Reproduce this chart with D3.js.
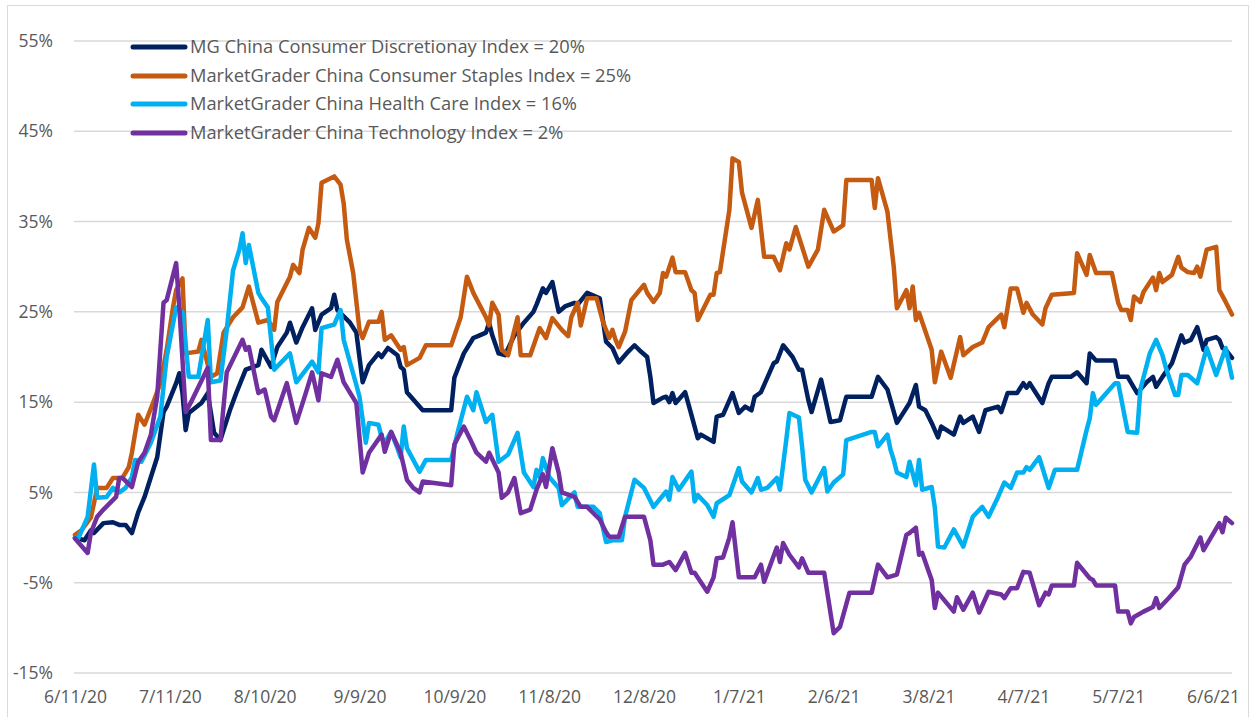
<!DOCTYPE html>
<html>
<head>
<meta charset="utf-8">
<script src="https://cdn.jsdelivr.net/npm/d3@7"></script>
<style>
  body { margin: 0; background: #fff; }
  text { font-family: "Open Sans", "Liberation Sans", Arial, sans-serif; fill: #595959; }
</style>
</head>
<body>
<div id="chart"></div>
<script>
// day offsets from 6/11/20 and index values (%)
const discDays = [0,3,5,6,9,12,14,16,18,20,22,26,28,29,32,33,34,35,36,40,42,44,46,47,49,51,54,58,59,62,64,67,68,70,72,75,76,78,81,82,83,87,89,91,93,96,97,99,102,103,104,105,110,119,120,123,126,128,130,131,132,134,136,139,142,145,146,148,149,151,153,155,158,159,162,166,168,170,171,172,175,177,179,181,182,183,186,187,188,189,190,193,195,197,198,202,203,205,208,210,212,214,215,217,221,222,224,227,229,230,232,233,236,239,242,244,252,254,257,260,264,266,267,269,271,273,274,278,280,281,284,286,288,292,293,295,298,300,301,302,306,308,309,315,317,320,321,323,329,330,333,334,336,339,341,342,344,347,350,351,353,355,357,358,361,362,363,364,366];
const discVals = [0,-0.3,0.8,0.5,1.6,1.7,1.4,1.4,0.5,2.8,4.5,8.9,13.9,14.5,17.1,18.2,16,11.9,13.8,14.9,16,11.6,10.8,11.9,14.1,16,18.6,19.1,20.8,18.9,21.1,22.7,23.8,21.6,23.3,25.4,23,24.7,25.4,26.9,25.2,23.8,22.7,17.2,19.1,20.4,20,21,20.2,18.9,18.6,16.1,14.1,14.1,17.7,20.4,22.1,22.4,22.7,23.8,22.4,20.4,20.2,22.4,23.8,25,25.8,27.6,27.1,28.3,25,25.6,26,25.8,27.1,26.5,21.7,21,20.2,19.4,20.6,21.3,20.6,20,17.8,14.9,15.5,15.6,15,16,14.9,16.1,13.6,11,11.4,10.6,13.4,13.6,16,13.8,14.5,14.1,15.6,16.1,19.3,19.5,21.3,20,18.6,18.6,15.2,13.9,17.5,12.8,13,15.6,15.6,17.8,16.4,12.7,14.9,16.9,14.5,14.1,12.7,11.1,12.3,11.4,13.4,12.7,13.4,11.7,14.1,14.5,13.9,16,16,17.1,16.6,17.1,14.9,17.1,17.8,17.8,18.3,17.1,20.4,19.6,19.6,17.8,17.8,17.2,16,17.2,17.8,16.7,17.8,19.3,22.4,21.6,21.9,23.3,20.8,21.9,22.2,21.9,21,20.8,19.9];

const stapDays = [0,2,5,6,7,10,12,15,17,18,20,22,25,27,29,31,32,34,35,39,40,43,45,47,50,53,55,58,61,63,64,68,69,71,72,74,76,77,78,82,84,85,86,88,90,91,93,96,97,98,100,103,104,105,109,111,119,122,124,126,130,131,132,134,135,137,140,141,144,147,149,151,154,156,157,159,160,162,165,167,169,170,171,172,174,176,180,181,183,185,186,187,189,190,193,195,196,197,201,202,203,204,207,208,210,211,214,216,218,221,223,225,226,228,232,235,237,240,243,244,252,253,254,257,259,260,263,264,265,266,267,271,272,274,277,280,281,284,287,289,293,294,296,298,300,301,303,306,307,309,316,317,319,320,321,323,328,330,331,333,334,335,337,338,341,342,343,344,347,349,350,352,354,355,356,358,361,362,364,366];
const stapVals = [0.3,0.8,2.2,3.8,5.5,5.5,6.6,6.6,7.8,9.4,13.6,12.5,15.2,17.1,20.8,25.5,27.4,28.7,20.4,20.6,21.9,17.8,18.2,22.7,24.4,25.5,27.8,23.8,24.1,23,26.1,28.9,30.2,29.3,31.9,34.3,33.2,34.8,39.3,40,39.1,37,33,29.3,23,22.1,23.9,23.9,25,21.9,22.4,20.8,21.1,19.1,19.9,21.3,21.3,24.4,28.9,27.1,24.4,23.5,26,24.7,20.8,20.2,24.4,20.2,20.2,23.2,22.1,24.3,23,22.3,24.4,26,23.5,26.5,26.5,23.9,22.1,23,21.9,21.1,22.8,26.3,28,27.1,26.1,27.1,29.3,28.9,31,29.4,29.4,27.4,27.1,24.1,26.9,26.9,29.3,29.4,36.3,42,41.6,38.2,34.3,37.4,31.1,31.1,29.6,32.6,31.9,34.4,30,31.9,36.3,33.9,34.6,39.6,39.6,36.5,39.8,36.1,30,25.4,27.4,25.4,27.8,24.1,24.9,20.8,17.2,20.6,17.7,22.2,20.2,21.1,21.6,23.3,24.7,23.3,27.6,27.6,24.9,26,24.7,23.6,25.4,26.9,27.1,31.5,29.9,29.1,31.3,29.3,29.3,26,25.2,25.2,24.1,26.7,26.1,27.2,28.8,27.4,29.3,28.3,29.1,31.1,29.9,29.4,29.3,30,28.9,31.9,32.2,27.4,26.1,24.7];

const healthDays = [0,1,4,6,7,10,12,14,16,18,19,21,24,27,29,32,34,36,39,42,43,46,48,50,52,53,54,55,58,59,61,63,68,70,75,77,78,82,84,85,89,90,92,93,96,97,98,100,102,103,104,105,109,111,119,121,124,126,127,130,132,134,137,139,140,142,145,146,147,148,150,153,154,158,159,164,166,168,170,173,174,177,180,183,187,188,189,191,195,196,197,200,202,203,207,210,211,214,216,217,219,222,223,225,226,229,230,231,233,237,238,240,243,244,252,253,254,257,258,259,260,263,264,266,267,268,271,272,273,275,278,281,284,287,289,292,293,294,296,298,300,301,302,305,308,310,316,317,320,321,322,323,329,330,333,336,337,340,342,344,345,348,349,350,352,355,358,361,364,366];
const healthVals = [0,-0.1,2.3,8.1,4.4,4.5,5.5,5,5.5,6.7,8.6,8.4,10.5,13.4,20,25.5,25,17.8,17.8,24.1,17.2,17.4,23,29.6,31.9,33.7,30.4,32.4,27.1,26.5,25.5,18.6,20.4,17.2,19.5,18.3,23.2,23.6,25.2,21.9,16.9,15.6,10.5,12.7,12.5,11.1,10.5,11.7,9.9,8.9,12.3,9.9,7.3,8.6,8.6,11.6,15.6,14.1,16.1,12.8,13.6,8.4,9.2,10.8,11.6,7.2,5.6,7.5,6.7,8.8,6.7,5.5,3.6,5,3.4,3.4,2.7,-0.5,-0.3,-0.3,2.3,6.4,5.5,3.4,5.1,4.2,6.7,5.3,7.3,4,4.7,3.6,2.3,3.8,4.7,7.7,6.2,5,6.6,5.3,5.5,6.6,5.3,10.8,13.8,13.3,10.1,6.4,5,7.7,5.1,6.1,7,10.8,11.7,11.7,10.1,11.4,9.7,8.6,7.2,6.7,8.4,5.8,8.6,5.3,5.6,3.3,-1,-1.1,0.9,-1,2.3,3.4,2.3,4.5,5.3,6.1,5.5,7.2,7.2,7.8,7.5,8.9,5.5,7.5,7.5,7.5,11.9,13.2,16,14.7,17.1,17.1,11.7,11.6,16.4,20.4,21.9,20.2,18.9,15.8,15.8,18,18,17.1,21,18,21,17.7,15.8];

const techDays = [0,4,5,7,9,13,14,15,18,20,22,24,26,28,29,32,33,35,37,42,43,46,48,53,54,55,58,60,62,63,67,70,73,75,77,78,81,83,85,89,91,93,97,98,100,103,105,107,109,110,119,120,123,125,127,130,131,134,135,137,139,141,144,146,148,149,151,153,154,158,160,162,166,168,169,172,174,177,180,182,183,186,188,190,193,195,196,200,202,203,205,207,208,210,215,217,218,222,223,224,226,229,230,232,237,240,242,245,252,254,257,260,263,264,266,267,268,271,272,273,278,279,281,284,286,289,293,294,296,298,300,302,305,307,308,309,316,317,321,322,323,329,330,333,334,335,338,341,342,343,346,349,351,353,356,357,362,363,364,366];
const techVals = [-0.1,-1.7,0.5,2.3,3.1,4.5,6.6,6.6,5.6,8.4,9.4,11.4,15.6,26,26.3,30.4,25.5,13.9,15.2,18.8,10.8,10.8,18.3,21.9,20.8,21.1,16,16.4,13.4,13,17.1,12.7,16,18.3,15.2,18.2,17.8,19.7,17.2,14.9,7.2,9.4,11.4,9.5,11.7,9.4,6.4,5.5,5,6.2,5.8,10.3,12.3,10.9,9.4,8.4,9.4,7.2,4.4,5,6.6,2.7,3.1,5.3,7,5.6,9.9,7.2,5,4.5,3.4,3.4,2,0.6,0.1,0.1,2.3,2.3,2.3,-0.3,-3,-3,-2.7,-3.6,-1.7,-3.9,-3.9,-6,-4.4,-2.3,-2.2,0,1.7,-4.4,-4.4,-3,-4.9,-1.1,-2.7,-0.6,-1.9,-3.3,-2.3,-3.9,-3.9,-10.6,-9.9,-6.1,-6.1,-3,-4.4,-4.1,0.3,0.5,1.1,-1.9,-1.7,-4.7,-7.8,-6.1,-8.2,-6.6,-8,-6.1,-8.3,-6,-6.3,-6.7,-5.6,-5.6,-3.8,-3.9,-7.5,-6.1,-6.3,-5.3,-5.3,-2.8,-4.5,-4.7,-5.3,-5.3,-8.2,-8.2,-9.5,-8.8,-8.2,-7.7,-6.7,-7.8,-6.7,-5.5,-3,-2.1,0,-1.4,1.6,0.6,2.2,1.6];

const seriesNames = [
  "MG China Consumer Discretionay Index = 20%",
  "MarketGrader China Consumer Staples Index = 25%",
  "MarketGrader China Health Care Index = 16%",
  "MarketGrader China Technology Index = 2%"
];
const seriesColors = ["#002060", "#c55a11", "#00b0f0", "#7030a0"];
const xTickLabels = ["6/11/20","7/11/20","8/10/20","9/9/20","10/9/20","11/8/20","12/8/20","1/7/21","2/6/21","3/8/21","4/7/21","5/7/21","6/6/21"];
const yTicks = [-15, -5, 5, 15, 25, 35, 45, 55];
const startDate = "6/11/20";
const totalDays = 366;

const width = 1253, height = 717;
const parse = d3.timeParse("%m/%d/%y");
const start = parse(startDate);

const svg = d3.select("#chart").append("svg")
  .attr("width", width)
  .attr("height", height);

// chart border
svg.append("rect")
  .attr("x", 7.5).attr("y", 5.5)
  .attr("width", 1241).attr("height", 720)
  .attr("fill", "none")
  .attr("stroke", "#d9d9d9");

const x = d3.scaleTime()
  .domain([start, d3.timeDay.offset(start, totalDays)])
  .range([75, 1232]);

const y = d3.scaleLinear()
  .domain([-15, 55])
  .range([673, 41]);

// gridlines
svg.append("g")
  .selectAll("line")
  .data(yTicks)
  .join("line")
  .attr("x1", 74).attr("x2", 1232)
  .attr("y1", d => y(d)).attr("y2", d => y(d))
  .attr("stroke", "#d9d9d9")
  .attr("stroke-width", 1.5);

// y axis labels
const yAxis = d3.axisLeft(y).tickValues(yTicks).tickFormat(d => d + "%").tickSize(0).tickPadding(0);
svg.append("g")
  .attr("transform", "translate(53,0)")
  .call(yAxis)
  .call(g => g.select(".domain").remove())
  .selectAll("text")
  .style("font-size", "17.5px")
  .attr("fill", "#595959");

// x axis labels
const xAxis = d3.axisBottom(x)
  .tickValues(xTickLabels.map(parse))
  .tickFormat((d, i) => xTickLabels[i])
  .tickSize(0).tickPadding(0);
svg.append("g")
  .attr("transform", "translate(0,691)")
  .call(xAxis)
  .call(g => g.select(".domain").remove())
  .selectAll("text")
  .style("font-size", "17.5px")
  .attr("fill", "#595959");

const series = [
  { days: discDays, vals: discVals },
  { days: stapDays, vals: stapVals },
  { days: healthDays, vals: healthVals },
  { days: techDays, vals: techVals }
];

const line = d3.line()
  .x(d => x(d3.timeDay.offset(start, d[0])))
  .y(d => y(d[1]));

// draw in Excel order: later series on top
series.forEach((s, i) => {
  const pts = s.days.map((d, j) => [d, s.vals[j]]);
  svg.append("path")
    .datum(pts)
    .attr("d", line)
    .attr("fill", "none")
    .attr("stroke", seriesColors[i])
    .attr("stroke-width", 4.5)
    .attr("stroke-linejoin", "round")
    .attr("stroke-linecap", "round");
});

// legend
const legendY = [47, 76, 104, 133];
const legend = svg.append("g");
seriesNames.forEach((name, i) => {
  const row = legend.append("g").attr("transform", `translate(0,${legendY[i]})`);
  row.append("line")
    .attr("x1", 133).attr("x2", 185)
    .attr("stroke", seriesColors[i])
    .attr("stroke-width", 5)
    .attr("stroke-linecap", "round");
  row.append("text")
    .attr("x", 190)
    .attr("dy", "0.35em")
    .style("font-size", "18.3px")
    .attr("fill", "#595959")
    .text(name);
});
</script>
</body>
</html>
